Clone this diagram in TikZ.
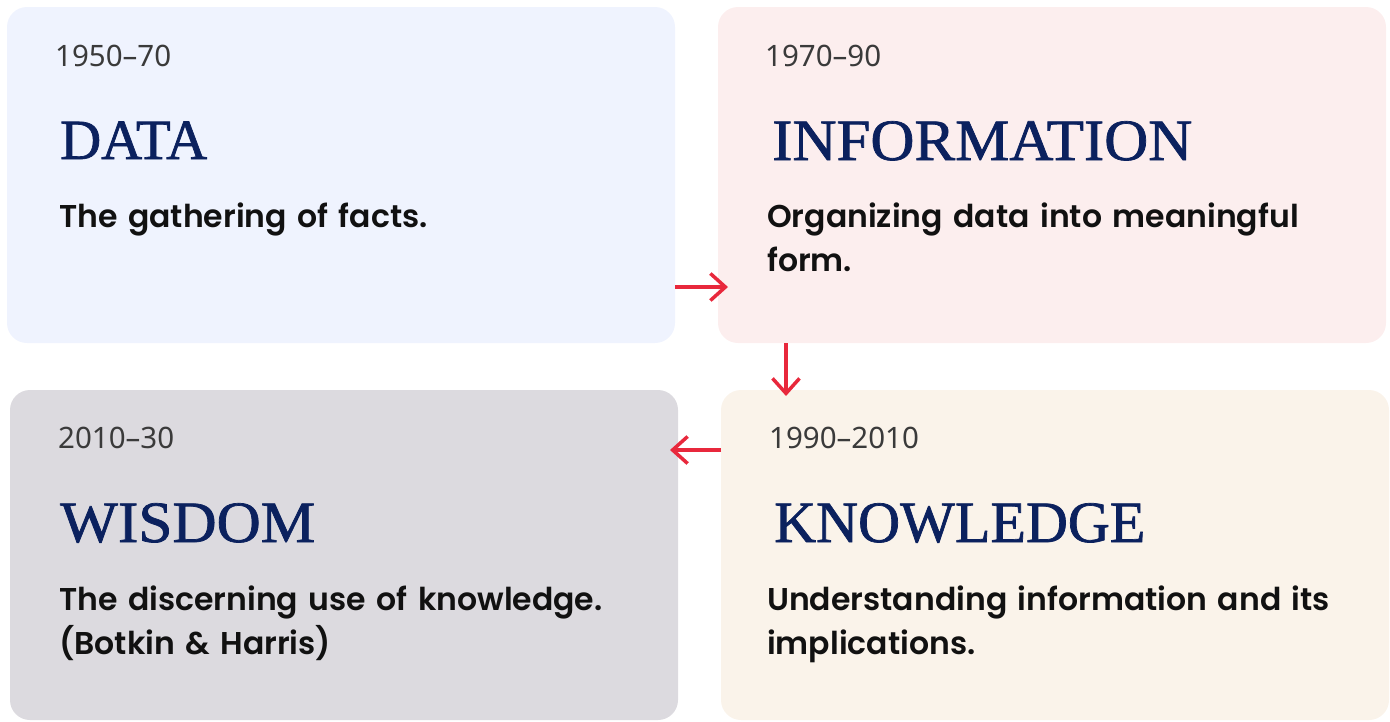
\documentclass[tikz,border=0pt]{standalone}
\usepackage{fontspec}
\usepackage{graphicx}
\usetikzlibrary{arrows.meta,calc}

\newfontfamily\yearfont{Noto Sans}
\newfontfamily\headfont{Liberation Serif}[FakeBold=1.2]
\newfontfamily\bodyfont{Poppins}[UprightFont={* SemiBold},BoldFont={* Bold}]

\definecolor{dataBg}{HTML}{EFF3FE}
\definecolor{infoBg}{HTML}{FCEEEE}
\definecolor{knowBg}{HTML}{FAF3EA}
\definecolor{wisBg}{HTML}{DCDADF}
\definecolor{navy}{HTML}{0B215E}
\definecolor{flowred}{HTML}{E8283C}
\definecolor{yeargray}{HTML}{3A3A3A}
\definecolor{ink}{HTML}{111111}

% stage title, stretched to a given width and cap height
\newcommand\stagetitle[3]{\resizebox{#1pt}{#2pt}{\headfont #3}}

\tikzset{
  stagebox/.style={draw=none, rounded corners=20pt, anchor=north west,
    minimum width=668pt, inner sep=0pt, outer sep=0pt},
  yeartext/.style={anchor=base west, inner sep=0pt, text=yeargray,
    font=\yearfont\fontsize{29.5}{34}\selectfont},
  titletext/.style={anchor=base west, inner sep=0pt, text=navy},
  desctext/.style={anchor=base west, inner sep=0pt, text=ink, align=left,
    text width=640pt, font=\bodyfont\fontsize{31.5}{44}\selectfont},
  flowarrow/.style={draw=flowred, line width=3.5pt,
    -{Straight Barb[length=15pt,width=27pt]}},
}

\begin{document}
\begin{tikzpicture}[x=1pt,y=-1pt]
\useasboundingbox (0,0) rectangle (1390,721);

% four stage panels
\node[stagebox, fill=dataBg, minimum height=336pt] (data) at (7,7) {};
\node[stagebox, fill=infoBg, minimum height=336pt] (info) at (718,7) {};
\node[stagebox, fill=wisBg,  minimum height=330pt] (wisdom) at (10,390) {};
\node[stagebox, fill=knowBg, minimum height=330pt] (know) at (721,390) {};

% DATA
\node[yeartext] (dataYear) at (55,66) {1950–70};
\node[titletext] (dataTitle) at (60,159) {\stagetitle{147}{37.5}{DATA}};
\node[desctext] (dataDesc) at (59,227) {The gathering of facts.};

% INFORMATION
\node[yeartext] (infoYear) at (765,66) {1970–90};
\node[titletext] (infoTitle) at (772,160) {\stagetitle{420}{38.8}{INFORMATION}};
\node[desctext] (infoDesc) at (767,227) {Organizing data into meaningful\\form.};

% WISDOM
\node[yeartext] (wisYear) at (58,448) {2010–30};
\node[titletext] (wisTitle) at (60,542) {\stagetitle{255}{38.8}{WISDOM}};
\node[desctext] (wisDesc) at (59,610) {The discerning use of knowledge.\\(Botkin \& Harris)};

% KNOWLEDGE
\node[yeartext] (knowYear) at (769,448) {1990–2010};
\node[titletext] (knowTitle) at (774,542) {\stagetitle{371}{38.8}{KNOWLEDGE}};
\node[desctext] (knowDesc) at (767,610) {Understanding information and its\\implications.};

% flow between the stages
\draw[flowarrow, shorten >=-10pt]
  ($(data.south east)+(0,-56)$) coordinate (a1) -- (a1 -| info.west);
\draw[flowarrow, shorten >=-6pt]
  ($(info.south west)+(68,0)$) coordinate (a2) -- (a2 |- know.north);
\draw[flowarrow, shorten >=-8pt]
  ($(know.north west)+(0,60)$) coordinate (a3) -- (a3 -| wisdom.east);
\end{tikzpicture}
\end{document}
